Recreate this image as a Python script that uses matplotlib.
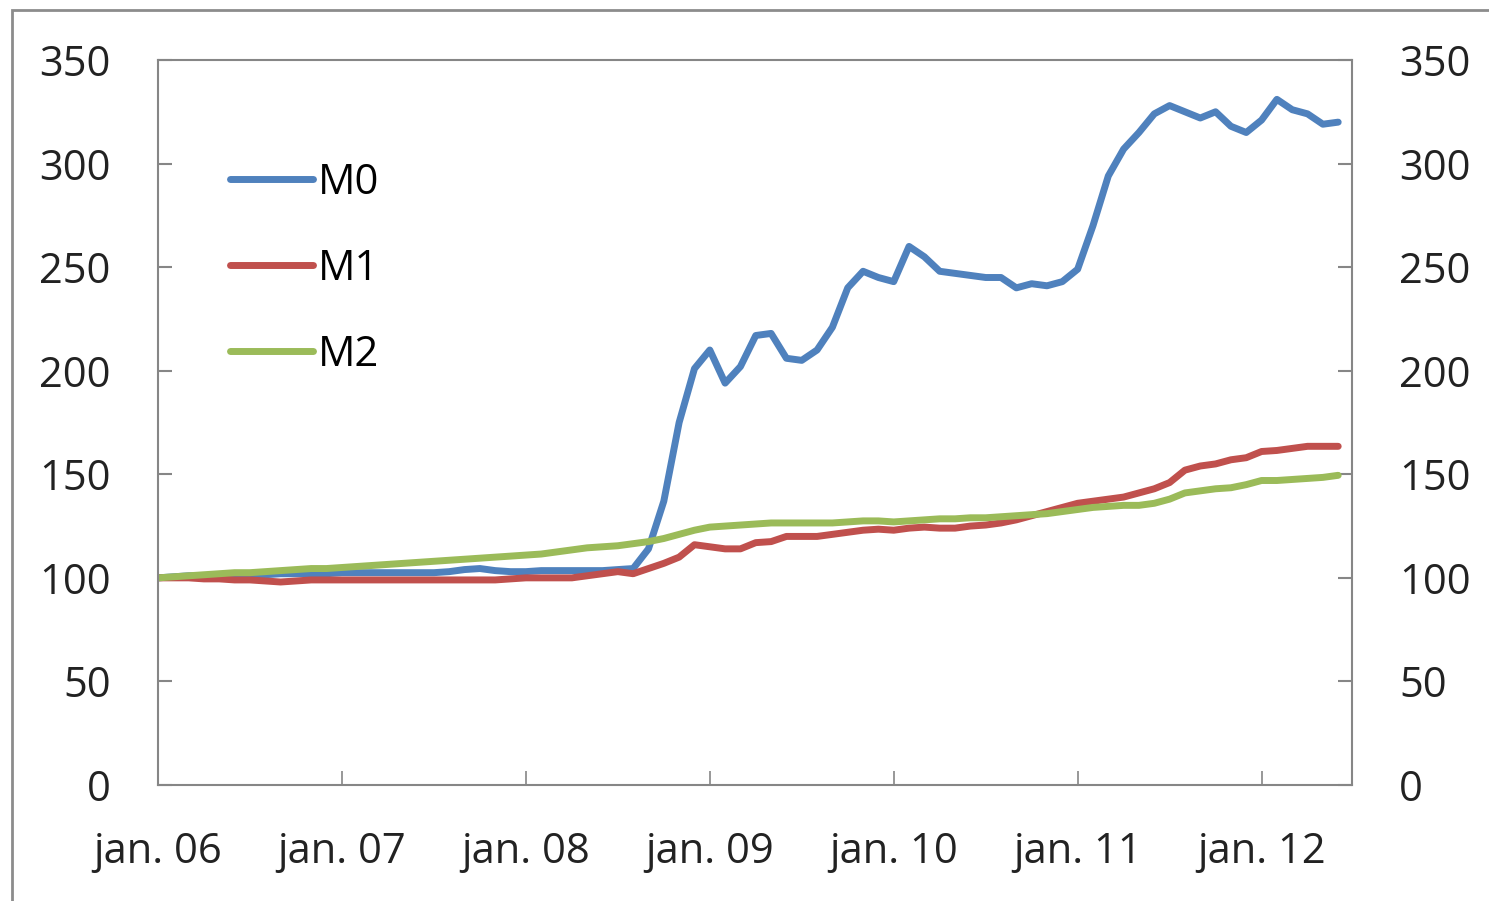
import numpy as np
import matplotlib
matplotlib.use("Agg")
import matplotlib.pyplot as plt
from matplotlib.patches import Rectangle

# monthly index values, jan 2006 = 100 (jan.06 ... jun.12)
m0 = [100, 100.5, 101, 101, 101, 101.5, 101.5, 101.5, 102, 102, 102, 102,
      102.5, 102.5, 102.5, 102.5, 102.5, 102.5, 102.5, 103, 104, 104.5, 103.5, 103,
      103, 103.5, 103.5, 103.5, 103.5, 103.5, 104, 104.5, 114, 137, 175, 201,
      210, 194, 202, 217, 218, 206, 205, 210, 221, 240, 248, 245,
      243, 260, 255, 248, 247, 246, 245, 245, 240, 242, 241, 243,
      249, 270, 294, 307, 315, 324, 328, 325, 322, 325, 318, 315,
      321, 331, 326, 324, 319, 320]
m1 = [100, 100, 100, 99.5, 99.5, 99, 99, 98.5, 98, 98.5, 99, 99,
      99, 99, 99, 99, 99, 99, 99, 99, 99, 99, 99, 99.5,
      100, 100, 100, 100, 101, 102, 103, 102, 104.5, 107, 110, 116,
      115, 114, 114, 117, 117.5, 120, 120, 120, 121, 122, 123, 123.5,
      123, 124, 124.5, 124, 124, 125, 125.5, 126.5, 128, 130, 132, 134,
      136, 137, 138, 139, 141, 143, 146, 152, 154, 155, 157, 158,
      161, 161.5, 162.5, 163.5, 163.5, 163.5]
m2 = [100, 100.5, 101, 101.5, 102, 102.5, 102.5, 103, 103.5, 104, 104.5, 104.5,
      105, 105.5, 106, 106.5, 107, 107.5, 108, 108.5, 109, 109.5, 110, 110.5,
      111, 111.5, 112.5, 113.5, 114.5, 115, 115.5, 116.5, 117.5, 119, 121, 123,
      124.5, 125, 125.5, 126, 126.5, 126.5, 126.5, 126.5, 126.5, 127, 127.5, 127.5,
      127, 127.5, 128, 128.5, 128.5, 129, 129, 129.5, 130, 130.5, 131, 132,
      133, 134, 134.5, 135, 135, 136, 138, 141, 142, 143, 143.5, 145,
      147, 147, 147.5, 148, 148.5, 149.5]

series_names = ["M0", "M1", "M2"]
series_colors = ["#4F81BD", "#C0504D", "#9BBB59"]
year_labels = ["jan. 06", "jan. 07", "jan. 08", "jan. 09", "jan. 10", "jan. 11", "jan. 12"]
y_ticks = [0, 50, 100, 150, 200, 250, 300, 350]

plt.rcParams["font.family"] = ["Open Sans", "DejaVu Sans"]

fig = plt.figure(figsize=(14.89, 9.01), dpi=100)
ax = fig.add_axes([158/1489, 1 - 785/901, (1352 - 158)/1489, (785 - 60)/901])

months = np.arange(len(m0))
for vals, name, col in zip([m0, m1, m2], series_names, series_colors):
    ax.plot(months, vals, color=col, lw=5, label=name, solid_capstyle="round")

ax.set_xlim(0, 77.9)
ax.set_ylim(0, 350)
ax.set_yticks(y_ticks)
ax.set_xticks(np.arange(len(year_labels))*12)
ax.set_xticklabels(year_labels)

grey = "#868686"
for s in ax.spines.values():
    s.set_color(grey)
    s.set_linewidth(1.5)
ax.tick_params(axis="y", direction="in", length=10, width=1.5, color=grey,
               labelsize=30, pad=34, right=True, labelright=True, labelcolor="#222222")
ax.tick_params(axis="x", direction="in", length=10, width=1.2, color=grey,
               labelsize=30, pad=33, labelcolor="#222222")

ax.legend(loc="upper left", bbox_to_anchor=((230 - 158)/1194, (785 - 162)/725),
          frameon=False, fontsize=30, handlelength=2.0, handletextpad=0.1,
          labelspacing=1.05, borderpad=0, borderaxespad=0)

# outer chart frame
fig.patches.append(Rectangle((12/1489, -0.1), 1.2, 1.1 - 10/901, transform=fig.transFigure,
                             fill=False, edgecolor="#8c8c8c", lw=2))

fig.savefig("out.png", dpi=100)
